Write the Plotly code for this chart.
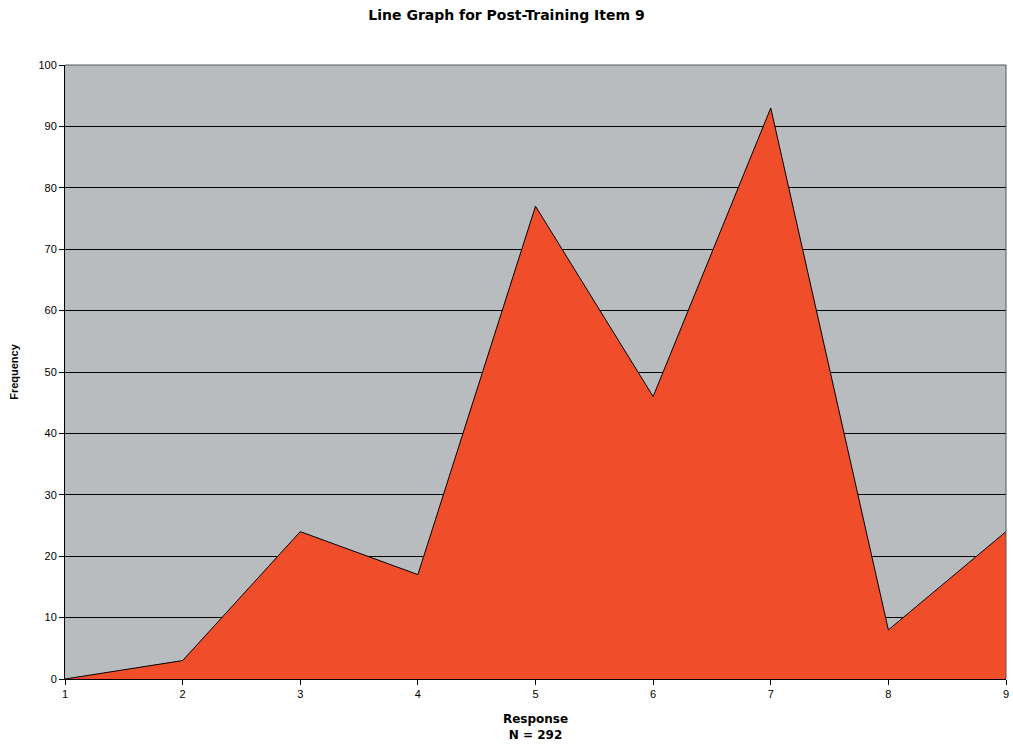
import plotly.graph_objects as go

responses = [1, 2, 3, 4, 5, 6, 7, 8, 9]
frequency = [0, 3, 24, 17, 77, 46, 93, 8, 24]
y_ticks = [0, 10, 20, 30, 40, 50, 60, 70, 80, 90, 100]

fig = go.Figure(
    go.Scatter(
        x=responses,
        y=frequency,
        mode="lines",
        fill="tozeroy",
        fillcolor="#F04E2A",
        line={"color": "#000000", "width": 1},
        hoverinfo="x+y",
    )
)
fig.update_layout(
    width=1013,
    height=747,
    margin={"l": 65, "r": 4, "t": 65, "b": 68},
    paper_bgcolor="#FFFFFF",
    plot_bgcolor="#B8BCBE",
    showlegend=False,
    font={"family": "Liberation Sans, Arial, sans-serif", "size": 11, "color": "#000000"},
    title={
        "text": "<b>Line Graph for Post-Training Item 9</b>",
        "x": 0.5,
        "xanchor": "center",
        "y": 0.987,
        "yanchor": "top",
        "font": {"size": 14, "family": "DejaVu Sans"},
    },
    xaxis={
        "range": [1, 9],
        "tickvals": responses,
        "ticks": "outside",
        "ticklen": 5,
        "tickcolor": "#000000",
        "showgrid": False,
        "showline": True,
        "linecolor": "#000000",
        "linewidth": 1,
        "zeroline": False,
        "title": {
            "text": "<b>Response<br>N = 292</b>",
            "font": {"size": 12, "family": "DejaVu Sans"},
            "standoff": 15,
        },
    },
    yaxis={
        "range": [0, 100],
        "tickvals": y_ticks,
        "ticks": "outside",
        "ticklen": 5,
        "tickcolor": "#000000",
        "showgrid": True,
        "gridcolor": "#000000",
        "gridwidth": 1,
        "showline": True,
        "linecolor": "#000000",
        "linewidth": 1,
        "zeroline": False,
        "title": {"text": "<b>Frequency</b>", "font": {"size": 11}, "standoff": 17},
    },
)
fig.add_shape(
    type="line", xref="paper", yref="paper", x0=1, x1=1, y0=0, y1=1,
    line={"color": "#555555", "width": 1},
)
fig.add_shape(
    type="line", xref="paper", yref="paper", x0=0, x1=1, y0=1, y1=1,
    line={"color": "#555555", "width": 1},
)
fig.write_html(
    "out.html",
    config={"displayModeBar": False},
    post_script="document.body.style.margin='0';document.body.style.overflow='hidden';",
)
